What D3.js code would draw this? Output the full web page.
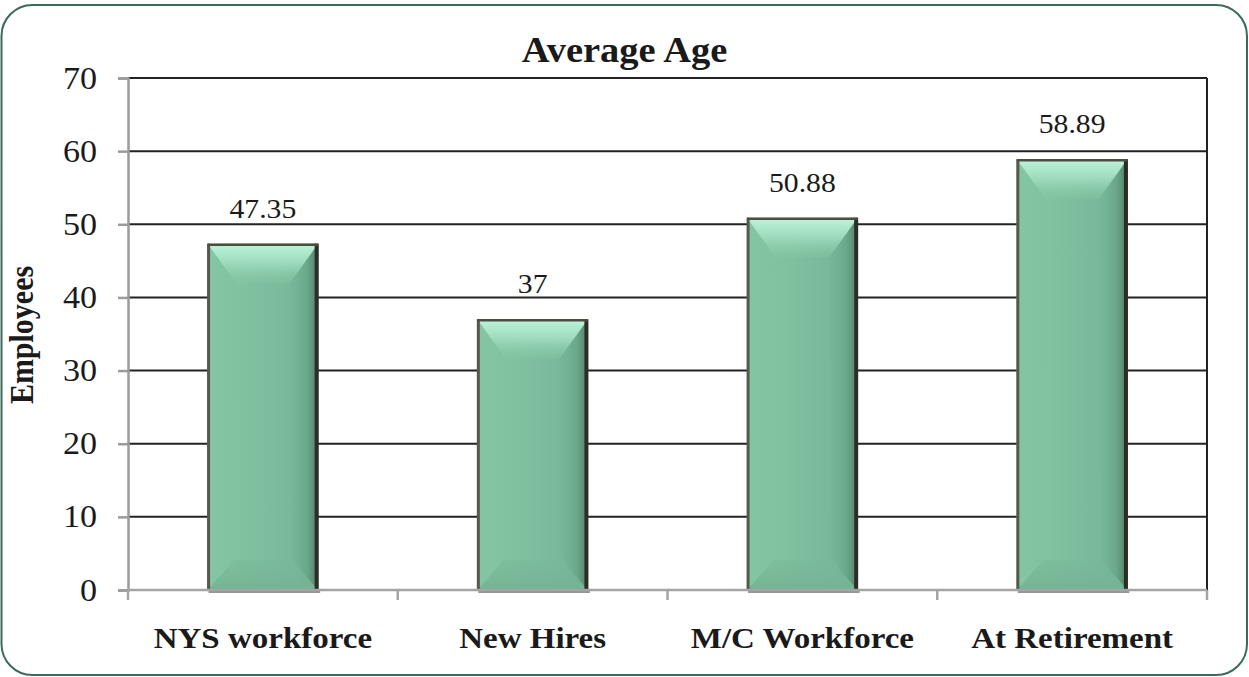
<!DOCTYPE html>
<html><head><meta charset="utf-8">
<script src="https://cdn.jsdelivr.net/npm/d3@7"></script>
<style>html,body{margin:0;padding:0;background:#fff}svg{display:block}</style>
</head><body>
<script>
const categories = ["NYS workforce", "New Hires", "M/C Workforce", "At Retirement"];
const values = [47.35, 37, 50.88, 58.89];
const valueLabels = ["47.35", "37", "50.88", "58.89"];
const yTicks = [0, 10, 20, 30, 40, 50, 60, 70];
const chartTitle = "Average Age";
const yTitle = "Employees";

const W = 1249, H = 677;
const plot = {left: 128, right: 1207, top: 78, bottom: 590};
const SX = 1.1; // horizontal stretch of the source rendering
const serif = "Liberation Serif";

const svg = d3.select("body").append("svg").attr("width", W).attr("height", H);
const defs = svg.append("defs");

const x = d3.scaleBand().domain(categories).range([plot.left, plot.right])
  .paddingInner(0.59).paddingOuter(0.295);
const y = d3.scaleLinear().domain([0, 70]).range([plot.bottom, plot.top]);

function grad(id, x1, y1, x2, y2, stops) {
  const g = defs.append("linearGradient").attr("id", id)
    .attr("x1", x1).attr("y1", y1).attr("x2", x2).attr("y2", y2);
  stops.forEach(s => g.append("stop").attr("offset", s[0]).attr("stop-color", s[1])
    .attr("stop-opacity", s[2] == null ? 1 : s[2]));
}
grad("gMain", 0, 0, 1, 0, [[0, "#86c8a6"], [0.45, "#7ebf9f"], [0.8, "#78b898"], [0.93, "#6ca98b"], [1, "#557f6b"]]);
grad("gTop", 0, 0, 0, 1, [[0, "#bdf5da"], [0.45, "#9fddbe"], [1, "#84c6a5", 0.3]]);
grad("gLeft", 0, 0, 1, 0, [[0, "#84c6a4", 0.9], [1, "#7fc1a0", 0.5]]);
grad("gRight", 0, 0, 1, 0, [[0, "#76b696", 0.4], [0.6, "#6aa88a", 0.9], [1, "#547e6a", 1]]);
grad("gBottom", 0, 0, 0, 1, [[0, "#78b999", 0.5], [1, "#74b494", 1]]);

// outer rounded border
svg.append("rect").attr("x", 1.5).attr("y", 5).attr("width", W - 3.5).attr("height", H - 7)
  .attr("rx", 31).attr("ry", 31).attr("fill", "#fff")
  .attr("stroke", "#3b6a58").attr("stroke-width", 2);

// gridlines
svg.append("g").selectAll("line").data(yTicks.filter(d => d > 0)).join("line")
  .attr("x1", plot.left).attr("x2", plot.right)
  .attr("y1", d => y(d)).attr("y2", d => y(d))
  .attr("stroke", "#222").attr("stroke-width", 2);
svg.append("line").attr("x1", plot.right).attr("x2", plot.right)
  .attr("y1", y(70)).attr("y2", y(0)).attr("stroke", "#222").attr("stroke-width", 2);

// bars
const bars = svg.append("g").selectAll("g").data(values).join("g");
bars.each(function(v, i) {
  const g = d3.select(this);
  const x0 = x(categories[i]), w = x.bandwidth(), x1 = x0 + w;
  const y0 = y(v), y1 = y(0);
  const d = 40, inset = w * 0.26, bd = 30, binset = w * 0.24;
  g.append("rect").attr("x", x0 + 1).attr("y", y1 - 1).attr("width", w + 1).attr("height", 4)
    .attr("fill", "#7d7d76").attr("opacity", 0.8);
  g.append("rect").attr("x", x0).attr("y", y0).attr("width", w).attr("height", y1 - y0)
    .attr("fill", "url(#gMain)");
  const poly = (pts, fill) => g.append("polygon")
    .attr("points", pts.map(p => p.join(",")).join(" ")).attr("fill", fill);
  poly([[x0, y0], [x0 + inset, y0 + d], [x0 + binset, y1 - bd], [x0, y1]], "url(#gLeft)");
  poly([[x1, y0], [x1, y1], [x1 - binset, y1 - bd], [x1 - inset, y0 + d]], "url(#gRight)");
  poly([[x0, y1], [x0 + binset, y1 - bd], [x1 - binset, y1 - bd], [x1, y1]], "url(#gBottom)");
  poly([[x0, y0], [x1, y0], [x1 - inset, y0 + d], [x0 + inset, y0 + d]], "url(#gTop)");
  g.append("line").attr("x1", x0 + 1).attr("x2", x0 + 1).attr("y1", y0).attr("y2", y1)
    .attr("stroke", "#56584c").attr("stroke-width", 3);
  g.append("line").attr("x1", x1 - 1.5).attr("x2", x1 - 1.5).attr("y1", y0).attr("y2", y1)
    .attr("stroke", "#2c2d24").attr("stroke-width", 4);
  g.append("line").attr("x1", x0).attr("x2", x1).attr("y1", y0 + 1).attr("y2", y0 + 1)
    .attr("stroke", "#4b4d3e").attr("stroke-width", 2.5);
});

// y axis
const yAxis = svg.append("g").attr("transform", `translate(${plot.left},0)`)
  .call(d3.axisLeft(y).tickValues(yTicks).tickSize(10).tickFormat(""));
yAxis.select(".domain").attr("stroke", "#9a9a9a").attr("stroke-width", 2.5);
yAxis.selectAll(".tick line").attr("stroke", "#9a9a9a").attr("stroke-width", 2.5);

// x axis (ticks at category boundaries)
svg.append("line").attr("x1", plot.left).attr("x2", plot.right)
  .attr("y1", y(0)).attr("y2", y(0)).attr("stroke", "#a4a4a4").attr("stroke-width", 2.5);
const bounds = d3.range(categories.length + 1).map(i => x.range()[0] + i * x.step());
svg.append("g").selectAll("line").data(bounds).join("line")
  .attr("x1", d => d).attr("x2", d => d).attr("y1", y(0)).attr("y2", y(0) + 10)
  .attr("stroke", "#a4a4a4").attr("stroke-width", 2.5);

function stext(parent, str, tx, ty, size, weight, anchor) {
  return parent.append("text").text(str)
    .attr("transform", `translate(${tx},${ty}) scale(${SX},1)`)
    .style("font-family", serif).attr("font-size", size).attr("font-weight", weight)
    .attr("text-anchor", anchor).attr("fill", "#1a1a1a");
}

yTicks.forEach(t => stext(svg, String(t), plot.left - 31, y(t) + 10.5, 31, "normal", "end"));
categories.forEach(c => stext(svg, c, x(c) + x.bandwidth() / 2, 648, 30, "bold", "middle"));
values.forEach((v, i) => stext(svg, valueLabels[i], x(categories[i]) + x.bandwidth() / 2,
  y(v) - 26, 27, "normal", "middle"));
stext(svg, chartTitle, W / 2, 62, 35, "bold", "middle");

svg.append("text").text(yTitle)
  .attr("transform", `translate(33,335) rotate(-90) scale(1,${SX})`)
  .style("font-family", serif).attr("font-size", 30).attr("font-weight", "bold")
  .attr("text-anchor", "middle").attr("fill", "#1a1a1a");
</script>
</body></html>
